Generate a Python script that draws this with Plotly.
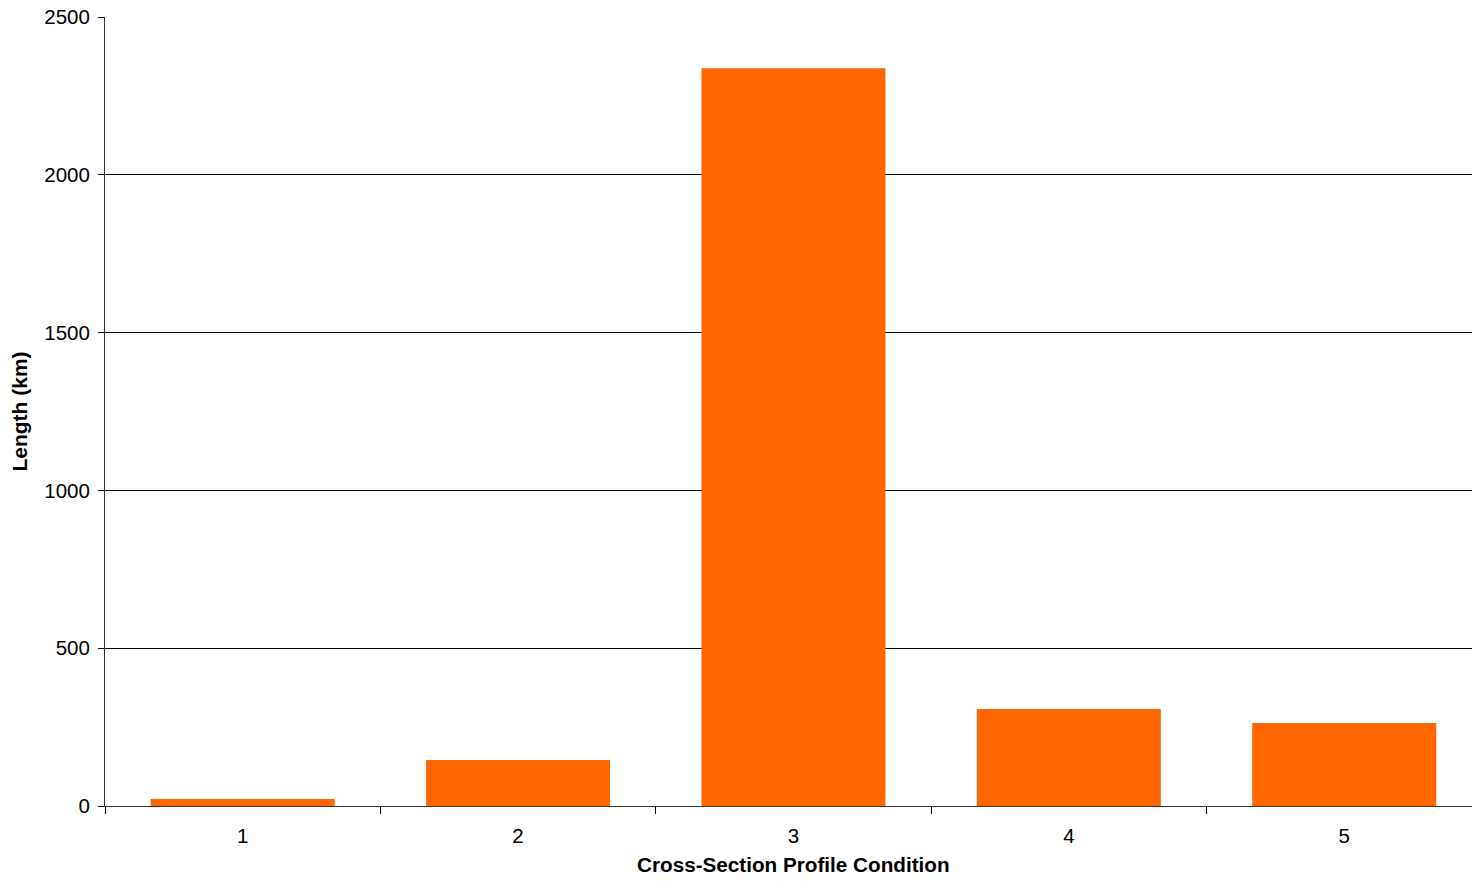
import plotly.graph_objects as go

categories = ["1", "2", "3", "4", "5"]
lengths_km = [22, 146, 2338, 307, 263]
y_ticks = [0, 500, 1000, 1500, 2000, 2500]
x_title = "Cross-Section Profile Condition"
y_title = "Length (km)"

fig = go.Figure()
fig.add_trace(go.Bar(
    x=categories, y=lengths_km,
    marker=dict(color="#FF6600", line=dict(width=0)),
    width=0.668,
))

font_family = "Liberation Sans, Arial, sans-serif"
fig.update_layout(
    width=1472, height=881,
    margin=dict(l=105, r=0, t=17, b=75),
    plot_bgcolor="white", paper_bgcolor="white",
    showlegend=False,
    font=dict(family=font_family, size=20, color="black"),
    xaxis=dict(
        type="category",
        range=[-0.5, 4.464],
        tickson="boundaries",
        ticks="outside", ticklen=7, tickcolor="black", tickwidth=1,
        showline=True, linecolor="#333333", linewidth=1,
        showgrid=False,
        tickfont=dict(size=20.5),
        ticklabelstandoff=11,
    ),
    yaxis=dict(
        range=[0, 2500],
        tickvals=y_ticks,
        ticks="outside", ticklen=6, tickcolor="black", tickwidth=1,
        showline=True, linecolor="#333333", linewidth=1,
        showgrid=True, gridcolor="black", gridwidth=1,
        zeroline=True, zerolinecolor="#333333", zerolinewidth=1,
        tickfont=dict(size=20.5),
        ticklabelstandoff=4,
        title=dict(text="<b>" + y_title + "</b>", font=dict(size=21), standoff=10),
    ),
    bargap=0.332,
)

# x-axis title centred on the full category span (middle category, index 2)
fig.add_annotation(
    x=(len(categories) - 1) / 2, y=0, xref="x", yref="paper",
    text="<b>" + x_title + "</b>",
    showarrow=False, xanchor="center", yanchor="middle",
    yshift=-58, font=dict(size=20.7, family=font_family, color="black"),
)

fig.write_html(
    "out.html",
    config={"displayModeBar": False},
    post_script="document.body.style.margin='0';document.body.style.overflow='hidden';",
)
